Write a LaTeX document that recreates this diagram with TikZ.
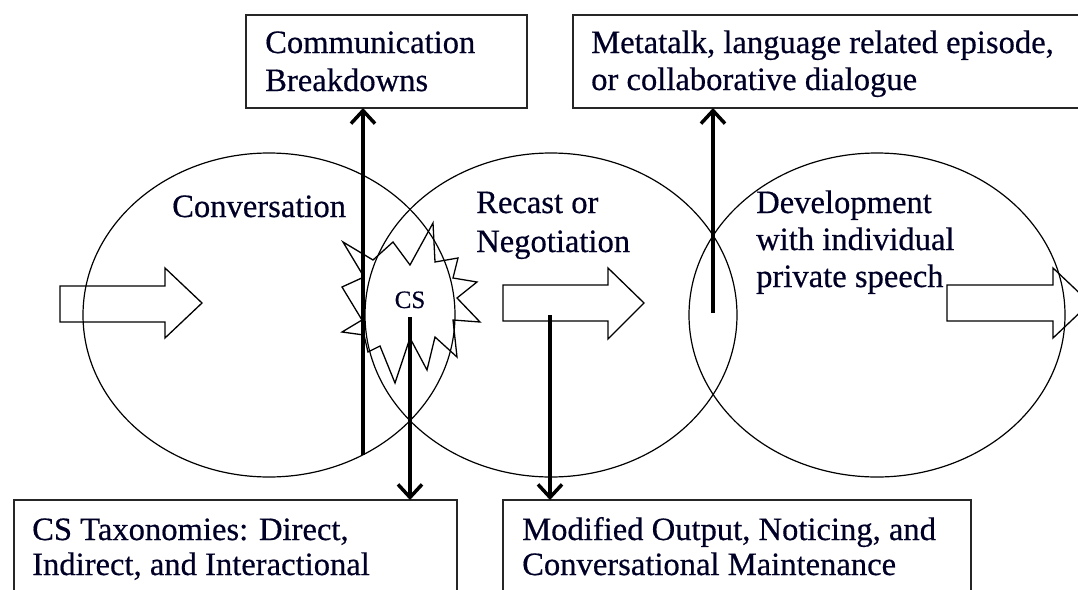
\documentclass[tikz,border=0pt]{standalone}
\usepackage{fontspec}
\setmainfont[FakeBold=0.5]{Liberation Serif}
\usetikzlibrary{shapes.geometric,arrows.meta}
\begin{document}
\begin{tikzpicture}[x=1pt,y=-1pt,
  oval/.style={draw, ellipse, line width=1.2pt, minimum height=324pt, inner sep=0pt, outer sep=0pt},
  box/.style={draw=black!85, line width=1.5pt, rectangle, inner sep=0pt, outer sep=0pt, anchor=north west},
  txt/.style={anchor=base west, inner sep=0pt, font=\fontsize{32.6}{38}\selectfont, text=black!85!blue},
  conn/.style={line width=4pt, -{Straight Barb[length=13pt,width=24pt,line width=3.5pt]}},
  blockarrow/.style={draw, line width=1.3pt, line join=miter},
  burst/.style={draw, line width=1.3pt, line join=miter}
]
\useasboundingbox (0,0) rectangle (1078,589);
\clip (0,0) rectangle (1078,589);

% ellipses
\node[oval, minimum width=372pt] (conv) at (269,315) {};
\node[oval, minimum width=372pt] (recast) at (551,315) {};
\node[oval, minimum width=376pt] (devel) at (877,315) {};

% boxes
\node[box, minimum width=281pt, minimum height=93pt] (cb) at (246,15) {};
\node[box, minimum width=530pt, minimum height=93pt] (meta) at (573,15) {};
\node[box, minimum width=443pt, minimum height=110pt] (tax) at (14,500) {};
\node[box, minimum width=468pt, minimum height=110pt] (mod) at (503,500) {};

% box texts
\node[txt] (cbt1) at (265,53) {Communication};
\node[txt] (cbt2) at (265,91) {Breakdowns};
\node[txt] (mt1) at (591,53) {Metatalk, language related episode,};
\node[txt] (mt2) at (591,90) {or collaborative dialogue};
\node[txt] (tt1) at (32,540) {CS Taxonomies: Direct,};
\node[txt] (tt2) at (32,575) {Indirect, and Interactional};
\node[txt] (mo1) at (522,540) {Modified Output, Noticing, and};
\node[txt] (mo2) at (522,575) {Conversational Maintenance};

% ellipse texts
\node[txt] (convt) at (172,217) {Conversation};
\node[txt] (rt1) at (476,213) {Recast or};
\node[txt] (rt2) at (476,252) {Negotiation};
\node[txt] (dt1) at (756,213) {Development};
\node[txt] (dt2) at (756,250) {with individual};
\node[txt] (dt3) at (756,287) {private speech};

% block arrows
\draw[blockarrow] (60,286) -- (165,286) -- (165,268) -- (202,303) -- (165,338) -- (165,322) -- (60,322) -- cycle;
\draw[blockarrow] (503,285) -- (608,285) -- (608,268) -- (644,303) -- (608,339) -- (608,321) -- (503,321) -- cycle;
\draw[blockarrow] (947,285) -- (1053,285) -- (1053,268) -- (1090,303) -- (1053,338) -- (1053,321) -- (947,321) -- cycle;

% burst
\draw[burst] (343,242) -- (373,260) -- (393,242) -- (410,265) -- (433,223) -- (435,262)
  -- (458,258) -- (453,278) -- (477,282) -- (457,298) -- (480,322) -- (453,320)
  -- (457,357) -- (435,337) -- (427,370) -- (410,338) -- (395,383) -- (380,346)
  -- (368,352) -- (364,335) -- (342,332) -- (362,320) -- (342,287) -- (364,277) -- cycle;
\node[anchor=base, inner sep=0pt, font=\fontsize{25}{28}\selectfont, text=black!85!blue] (cs) at (410,308) {CS};

% connectors
\coordinate (a1s) at (363,455);
\coordinate (a2s) at (410,317);
\coordinate (a3s) at (713,313);
\coordinate (a4s) at (550,315);
\draw[conn] (a1s) -- (a1s |- cb.south);
\draw[conn] (a2s) -- (a2s |- tax.north);
\draw[conn] (a3s) -- (a3s |- meta.south);
\draw[conn] (a4s) -- (a4s |- mod.north);
\end{tikzpicture}
\end{document}
